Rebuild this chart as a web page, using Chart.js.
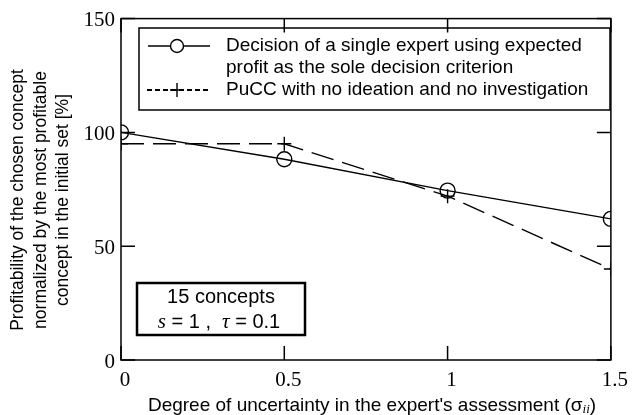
<!DOCTYPE html>
<html>
<head>
<meta charset="utf-8">
<script src="https://cdn.jsdelivr.net/npm/chart.js@4.4.1/dist/chart.umd.min.js"></script>
<style>
  html, body { margin: 0; padding: 0; background: #fff; }
  #wrap { width: 632px; height: 415px; }
</style>
</head>
<body>
<div id="wrap"><canvas id="chart" width="632" height="415"></canvas></div>
<script>
// ── Data ──────────────────────────────────────────────────────────────
const sigmaValues   = [0, 0.5, 1, 1.5];
const expertProfit  = [100, 88.2, 74.4, 62];
const puccProfit    = [95, 95, 72, 40];
const xTickValues   = [0, 0.5, 1, 1.5];
const yTickValues   = [0, 50, 100, 150];

const legendLines = [
    'Decision of a single expert using expected',
    'profit as the sole decision criterion',
    'PuCC with no ideation and no investigation',
];
const yTitleLines = [
    'Profitability of the chosen concept',
    'normalized by the most profitable',
    'concept in the initial set [%]',
];

const SANS  = '"Liberation Sans", Arial, sans-serif';
const SERIF = '"Liberation Serif", "Times New Roman", serif';

// ── Helpers ───────────────────────────────────────────────────────────
function drawRuns(ctx, runs, cx, cy) {
    let total = 0;
    runs.forEach(r => { ctx.font = r[1]; total += ctx.measureText(r[0]).width; });
    let x = cx - total / 2;
    ctx.textAlign = 'left';
    runs.forEach(r => {
        ctx.font = r[1];
        ctx.fillText(r[0], x, cy + (r[2] || 0));
        x += ctx.measureText(r[0]).width;
    });
}

// ── Frame, inward ticks, legend, notes ────────────────────────────────
const framePlugin = {
    id: 'frame',
    afterDraw(chart) {
        const { ctx, chartArea: a, scales } = chart;
        const xs = scales.x, ys = scales.y;
        ctx.save();
        ctx.strokeStyle = '#000';
        ctx.fillStyle = '#000';
        ctx.lineWidth = 1.5;
        ctx.strokeRect(a.left, a.top, a.right - a.left, a.bottom - a.top);

        // inward ticks on all four sides
        const tl = 14;
        ctx.beginPath();
        xTickValues.forEach(v => {
            const px = xs.getPixelForValue(v);
            ctx.moveTo(px, a.bottom); ctx.lineTo(px, a.bottom - tl);
            ctx.moveTo(px, a.top);    ctx.lineTo(px, a.top + tl);
        });
        yTickValues.forEach(v => {
            const py = ys.getPixelForValue(v);
            ctx.moveTo(a.left, py);  ctx.lineTo(a.left + tl, py);
            ctx.moveTo(a.right, py); ctx.lineTo(a.right - tl, py);
        });
        ctx.stroke();

        // legend box
        ctx.lineWidth = 1.5;
        ctx.strokeRect(139, 28, 471, 82);
        ctx.lineWidth = 1.4;
        ctx.beginPath();
        ctx.moveTo(148, 46); ctx.lineTo(210, 46);
        ctx.stroke();
        ctx.fillStyle = '#fff';
        ctx.beginPath();
        ctx.arc(177, 46, 6.5, 0, Math.PI * 2);
        ctx.fill(); ctx.stroke();
        ctx.lineWidth = 2;
        ctx.setLineDash([5, 3]);
        ctx.beginPath();
        ctx.moveTo(147, 90); ctx.lineTo(211, 90);
        ctx.stroke();
        ctx.setLineDash([]);
        ctx.lineWidth = 1.4;
        ctx.beginPath();
        ctx.moveTo(177, 83); ctx.lineTo(177, 97);
        ctx.moveTo(170, 90); ctx.lineTo(184, 90);
        ctx.stroke();

        ctx.fillStyle = '#000';
        ctx.font = '19px ' + SANS;
        ctx.textAlign = 'left';
        ctx.textBaseline = 'middle';
        ctx.fillText(legendLines[0], 226, 46);
        ctx.fillText(legendLines[1], 226, 68);
        ctx.fillText(legendLines[2], 226, 90);

        // note box
        ctx.lineWidth = 2.5;
        ctx.strokeRect(137, 283, 168, 52);
        ctx.textAlign = 'center';
        ctx.font = '20px ' + SANS;
        ctx.fillText('15 concepts', 221, 297);
        drawRuns(ctx, [
            ['s', 'italic 21px ' + SERIF],
            [' = 1 ,  ', '20px ' + SANS],
            ['\u03c4', 'italic 21px ' + SERIF],
            [' = 0.1', '20px ' + SANS],
        ], 219, 322);

        // x title with italic subscript
        drawRuns(ctx, [
            ["Degree of uncertainty in the expert's assessment (\u03c3", '19px ' + SANS],
            ['ii', 'italic 13px ' + SERIF, 4],
            [')', '19px ' + SANS],
        ], 372, 406);

        // y title
        ctx.save();
        ctx.translate(41, 200);
        ctx.rotate(-Math.PI / 2);
        ctx.textAlign = 'center';
        ctx.font = '17.5px ' + SANS;
        yTitleLines.forEach((t, i) => ctx.fillText(t, 0, (i - 1) * 22.5));
        ctx.restore();
        ctx.restore();
    }
};

// ── Chart ─────────────────────────────────────────────────────────────
new Chart(document.getElementById('chart'), {
    type: 'line',
    data: {
        datasets: [
            {
                label: legendLines[0],
                data: sigmaValues.map((x, i) => ({ x, y: expertProfit[i] })),
                borderColor: '#000',
                borderWidth: 1.4,
                pointStyle: 'circle',
                pointRadius: 7.5,
                pointBorderWidth: 1.4,
                pointBackgroundColor: 'rgba(255,255,255,0)',
                pointBorderColor: '#000',
                tension: 0,
            },
            {
                label: legendLines[2],
                data: sigmaValues.map((x, i) => ({ x, y: puccProfit[i] })),
                borderColor: '#000',
                borderWidth: 1.4,
                borderDash: [23, 9],
                pointStyle: 'cross',
                pointRadius: 7,
                pointBorderWidth: 1.4,
                pointBorderColor: '#000',
                tension: 0,
            },
        ],
    },
    options: {
        responsive: false,
        animation: false,
        layout: { padding: { top: 18, right: 19, left: 0, bottom: 0 } },
        plugins: {
            legend: { display: false },
            tooltip: { enabled: false },
        },
        scales: {
            x: {
                type: 'linear',
                min: 0, max: 1.5,
                afterBuildTicks: s => { s.ticks = xTickValues.map(v => ({ value: v })); },
                afterFit: s => { s.height = 55; },
                grid: { display: false, drawTicks: false },
                border: { display: false },
                ticks: {
                    color: '#000',
                    font: { family: SERIF, size: 21 },
                    padding: 8,
                    labelOffset: 4,
                    callback: v => String(v),
                },
            },
            y: {
                min: 0, max: 150,
                afterBuildTicks: s => { s.ticks = yTickValues.map(v => ({ value: v })); },
                afterFit: s => { s.width = 121; },
                grid: { display: false, drawTicks: false },
                border: { display: false },
                ticks: {
                    color: '#000',
                    font: { family: SERIF, size: 21 },
                    padding: 6,
                    labelOffset: 2,
                    callback: v => String(v),
                },
            },
        },
    },
    plugins: [framePlugin],
});
</script>
</body>
</html>
